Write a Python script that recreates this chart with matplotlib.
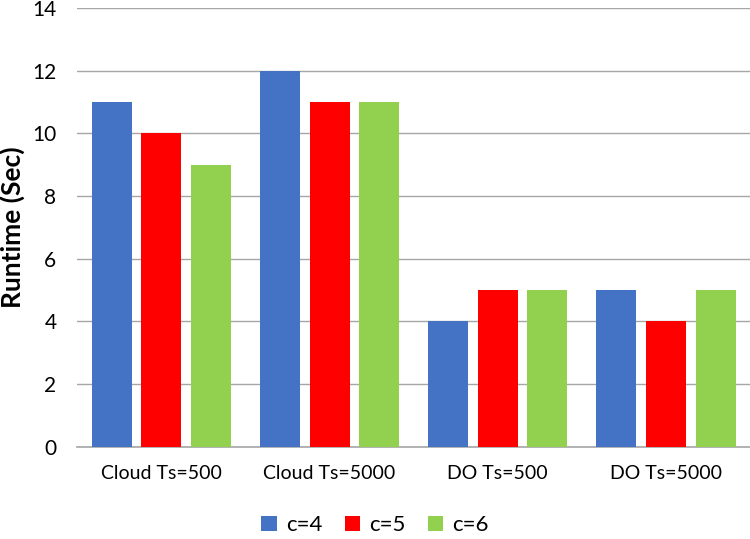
import matplotlib.pyplot as plt
import numpy as np

categories = ["Cloud Ts=500", "Cloud Ts=5000", "DO Ts=500", "DO Ts=5000"]
series_names = ["c=4", "c=5", "c=6"]
c4 = [11, 12, 4, 5]
c5 = [10, 11, 5, 4]
c6 = [9, 11, 5, 5]
colors = ["#4472C4", "#FF0000", "#92D050"]

plt.rcParams["font.family"] = ["Lato", "DejaVu Sans"]

fig = plt.figure(figsize=(7.5, 5.39), dpi=100)
ax = fig.add_axes([0.103, 0.171, 0.897, 0.814])

x = np.arange(len(categories))
width = 0.238
step = 0.295
for i, (vals, name) in enumerate(zip([c4, c5, c6], series_names)):
    ax.bar(x + (i - 1) * step, vals, width=width, color=colors[i], label=name, zorder=3)

ax.set_xlim(-0.5, len(categories) - 0.5)
ax.set_ylim(0, 14)
ax.set_yticks(np.arange(0, 15, 2))
ax.set_xticks(x)
ax.set_xticklabels(categories, fontsize=14)
ax.tick_params(axis="y", labelsize=15, length=0, pad=15)
ax.tick_params(axis="x", length=0, pad=13)
ax.grid(axis="y", color="#A6A6A6", linewidth=1, zorder=0)
for side in ["top", "right", "left"]:
    ax.spines[side].set_visible(False)
ax.spines["bottom"].set_color("#A6A6A6")
ax.spines["bottom"].set_linewidth(1.2)

ax.set_ylabel("Runtime (Sec)", fontsize=19, fontweight="bold")
ax.yaxis.set_label_coords(-0.077, 0.5)

fig.legend(loc="lower center", bbox_to_anchor=(0.5, -0.03), ncol=3, frameon=False,
           fontsize=16, handlelength=0.7, handleheight=0.7, handletextpad=0.4,
           columnspacing=1.0)

fig.savefig("out.png", dpi=100)
